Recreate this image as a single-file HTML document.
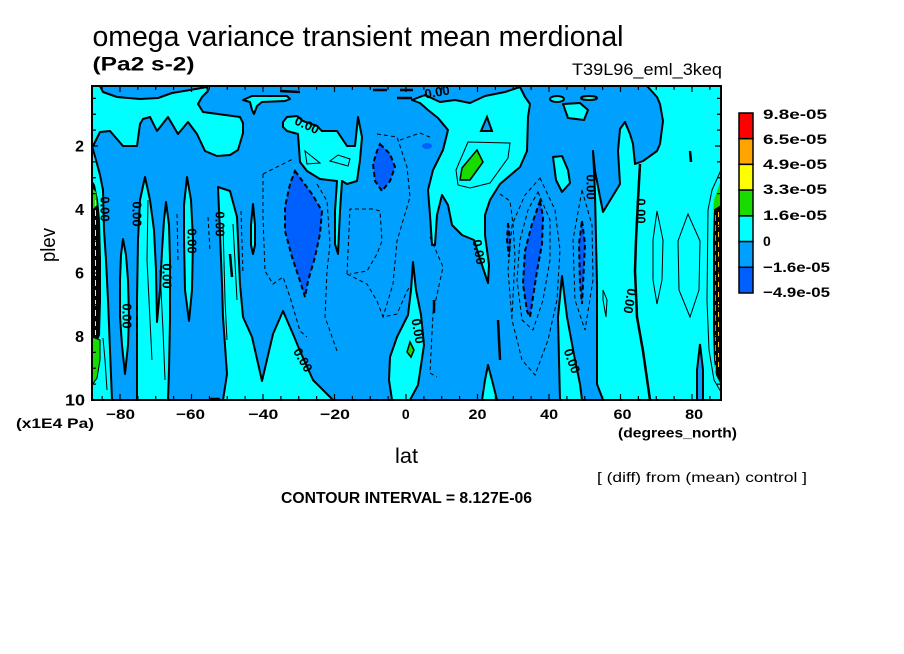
<!DOCTYPE html>
<html><head><meta charset="utf-8"><style>
html,body{margin:0;padding:0;background:#fff;}
svg{display:block;}
text{font-family:"Liberation Sans",sans-serif;fill:#000;}
</style></head><body>
<svg width="904" height="654" viewBox="0 0 904 654" xmlns="http://www.w3.org/2000/svg">
<rect width="904" height="654" fill="#fff"/>
<defs><clipPath id="pc"><rect x="92" y="86" width="629" height="314"/></clipPath></defs>
<g clip-path="url(#pc)">
<rect x="92" y="86" width="629" height="314" fill="#00a0ff"/>
<g fill="#00ffff" stroke="#000" stroke-width="2" stroke-linejoin="round">
<polygon points="92,86 100,86 103,92 117,97 140,99 158,98 172,93 190,90 207,87 208,91 202,97 198,104 203,112 240,117 243,123 243,133 238,150 230,155 217,156 205,151 197,134 188,122 178,134 168,117 157,131 150,117 143,119 140,124 137,146 123,146 110,131 100,132 93,146 92,146"/>
<polygon points="92,146 96,160 100,175 103,190 104,230 106,260 108,300 110,350 112,400 92,400"/>
<polygon points="123,239 126,255 128,280 129,317 128,345 125,374 122,345 120,317 120,280 121,255"/>
<polygon points="145,177 150,200 154,230 156,270 157,322 160,290 162,251 164,220 166,202 169,225 170,260 170,320 169,370 168,400 137,400 137,300 138,240 140,200"/>
<polygon points="187,177 191,200 193,240 192,290 189,321 185,290 184,240 184,205"/>
<polygon points="218,187 230,191 237,217 240,284 243,317 252,337 262,381 273,334 283,311 293,334 300,351 313,380 333,400 223,400 227,374 223,317 222,284 220,234"/>
<polygon points="253,204 255,225 255,245 253,254 251,245 251,225"/>
<polygon points="283,122 287,117 297,116 303,121 317,126 322,131 337,131 347,146 355,146 358,117 362,137 360,160 357,181 347,184 342,181 340,211 338,254 335,244 335,211 337,181 320,179 307,171 300,162 298,134 287,131 283,127"/>
<polygon points="243,100 252,96 287,96 290,99 285,101 262,102 257,106 254,114 252,110 250,102"/>
<polygon points="425,95 440,102 455,100 470,103 485,96 505,92 520,87 525,97 530,104 528,117 527,151 520,167 500,184 490,200 485,215 485,235 489,265 488,283 481,262 474,240 462,235 452,225 448,205 442,195 437,215 435,245 432,245 430,215 428,190 433,170 443,150 448,130 438,118 428,110 420,103 412,100"/>
<polygon points="553,157 562,156 568,170 570,183 562,192 556,180"/>
<ellipse cx="557" cy="99" rx="7" ry="3"/>
<polygon points="563,104 580,103 588,110 584,120 568,118"/>
<ellipse cx="589" cy="98" rx="8" ry="2"/>
<polygon points="593,151 594,171 595,194 597,284 597,384 603,400 721,400 721,86 647,86 657,97 660,104 663,121 660,144 657,151 643,161 635,164 633,144 630,134 625,122 620,129 618,151 620,184 603,212 600,197 595,171"/>
<polygon points="562,276 567,317 575,360 580,384 582,400 560,400 559,360 558,317"/>
<polygon points="488,365 492,380 497,400 482,400 485,380"/>
<polygon points="413,262 416,290 421,315 424,345 420,372 418,385 410,400 392,400 389,380 390,357 397,337 408,315 411,290"/>
</g>
<polygon points="481,131 487,117 492,131" fill="#00a0ff" stroke="#000" stroke-width="2"/>
<g fill="#0060ff" stroke="#000" stroke-width="2" stroke-dasharray="5 3">
<polygon points="295,171 312,194 322,211 320,234 315,257 308,281 305,297 300,281 292,257 285,231 285,207 290,184"/>
<polygon points="380,144 390,154 395,167 390,181 382,191 375,181 373,164 377,151"/>
<polygon points="540,201 543,217 542,244 537,271 533,297 530,317 527,311 523,284 525,251 532,224"/>
<polygon points="582,221 585,244 583,284 582,304 580,284 579,244"/>
<polygon points="508,223 510,240 509,257 507,240"/>
</g>
<ellipse cx="427" cy="146" rx="5" ry="3" fill="#0060ff"/>
<g fill="#18dc00" stroke="#000" stroke-width="1.5">
<polygon points="477,150 483,162 470,180 460,180 462,168"/>
<polygon points="410,342 414,350 411,357 407,352"/>
</g>
<g fill="none" stroke="#000" stroke-width="1" stroke-dasharray="4 3">
<polyline points="263,174 293,159"/>
<polyline points="263,174 263,217 265,271 273,284 283,277 290,297 300,331 307,337"/>
<polyline points="317,184 327,201 330,244 327,271 325,317 337,351"/>
<polyline points="347,274 350,209 373,209 380,211 382,241 377,254 367,271 350,274"/>
<polyline points="347,274 367,284 377,301 383,317 397,314 407,291 412,284"/>
<polyline points="377,134 397,137 407,167 410,197 397,241 393,284 383,317"/>
<polyline points="400,140 420,133 432,138"/>
<polyline points="430,237 443,267 433,313 430,373 437,377"/>
<polyline points="177,214 178,261"/>
<polyline points="208,217 210,251"/>
<polyline points="241,211 243,274"/>
<polygon points="540,178 555,210 560,250 557,300 548,340 535,375 522,360 512,320 508,270 512,225 525,195"/>
<polygon points="538,192 550,220 550,260 543,300 533,330 522,320 517,280 520,240 528,210"/>
<polygon points="582,190 592,225 593,280 585,330 575,300 573,240"/>
<polyline points="500,194 510,201 513,224 515,257 512,317"/>
</g>
<g fill="none" stroke="#000" stroke-width="1">
<polygon points="305,151 320,163 307,164"/>
<polygon points="330,161 338,155 350,159 348,166"/>
<polygon points="468,142 510,143 508,158 490,183 470,188 458,185 456,170"/>
<polygon points="657,211 663,240 662,280 657,304 653,280 653,240"/>
<polygon points="688,214 700,241 699,290 690,317 679,290 678,241"/>
<polygon points="603,290 607,300 606,317 603,300"/>
<polyline points="148,200 147,260 150,320 152,360"/>
<polyline points="160,270 163,330 165,380"/>
<polyline points="223,224 225,300 227,340"/>
<polyline points="233,224 237,300"/>
<polyline points="721,170 712,190 708,210 707,300 709,350 714,380 721,392"/>
<polyline points="103,338 105,360 107,390"/>
</g>
<g fill="none" stroke="#000" stroke-width="2.5">
<polyline points="640,164 638,200 636,240 635,271 637,317 643,351 650,400"/>
<line x1="230" y1="254" x2="232" y2="277"/>
<line x1="434" y1="300" x2="434" y2="313"/>
<line x1="373" y1="90" x2="387" y2="90"/>
<line x1="397" y1="98" x2="412" y2="98"/>
<line x1="280" y1="91" x2="300" y2="92"/>
<line x1="400" y1="90" x2="413" y2="90"/>
<line x1="690" y1="151" x2="691" y2="162"/>
<line x1="498" y1="320" x2="500" y2="360"/>
<line x1="210" y1="399" x2="220" y2="399"/>
</g>
<polygon points="700,344 703,370 703,400 697,400 697,370" fill="#00a0ff" stroke="#000" stroke-width="2"/>
<polygon points="92,180 95,185 98,200 100,220 101,260 101,300 100,335 98,340 92,340" fill="#000"/>
<polygon points="92,337 100,340 100,360 97,378 92,385" fill="#18dc00" stroke="#000" stroke-width="1"/>
<polygon points="92,188 96,192 97,205 92,210" fill="#18dc00"/>
<line x1="95.5" y1="200" x2="95.5" y2="335" stroke="#ffff00" stroke-width="1" stroke-dasharray="6 4"/>
<polygon points="721,184 717,195 714,207 713,240 713,330 714,360 716,375 721,385" fill="#000"/>
<polygon points="721,180 714,200 713,210 721,205" fill="#18dc00"/>
<line x1="718.5" y1="212" x2="718.5" y2="370" stroke="#ffc800" stroke-width="1" stroke-dasharray="5 5"/>
<line x1="715.5" y1="215" x2="715.5" y2="372" stroke="#18dc00" stroke-width="1" stroke-dasharray="6 4"/>
<g font-size="13" font-weight="bold" text-anchor="middle" dominant-baseline="central">
<text transform="translate(105,209) rotate(90)">0.00</text>
<text transform="translate(137,214) rotate(90)">0.00</text>
<text transform="translate(127,316) rotate(90)">0.00</text>
<text transform="translate(167,276) rotate(90)">0.00</text>
<text transform="translate(192,241) rotate(90)">0.00</text>
<text transform="translate(220,224) rotate(90)">0.00</text>
<text transform="translate(307,125) rotate(25)">0.00</text>
<text transform="translate(303,360) rotate(60)">0.00</text>
<text transform="translate(437,92) rotate(-10)">0.00</text>
<text transform="translate(479,252) rotate(80)">0.00</text>
<text transform="translate(418,331) rotate(80)">0.00</text>
<text transform="translate(591,187) rotate(90)">0.00</text>
<text transform="translate(641,211) rotate(90)">0.00</text>
<text transform="translate(630,301) rotate(100)">0.00</text>
<text transform="translate(572,361) rotate(70)">0.00</text>
</g>
</g>
<rect x="92" y="86" width="629" height="314" fill="none" stroke="#000" stroke-width="2"/>
<path stroke="#000" stroke-width="1.2" fill="none" d="
M102.1 400v-4M120 400v-6M137.9 400v-4M155.75 400v-4M173.6 400v-4M191.5 400v-6M209.4 400v-4M227.25 400v-4M245.1 400v-4M263 400v-6M280.9 400v-4M298.75 400v-4M316.6 400v-4M334.5 400v-6M352.4 400v-4M370.25 400v-4M388.1 400v-4M406 400v-6M423.9 400v-4M441.75 400v-4M459.6 400v-4M477.5 400v-6M495.4 400v-4M513.25 400v-4M531.1 400v-4M549 400v-6M566.9 400v-4M584.75 400v-4M602.6 400v-4M620.5 400v-6M638.4 400v-4M656.25 400v-4M674.1 400v-4M692 400v-6M709.9 400v-4
M102.1 86v4M120 86v6M137.9 86v4M155.75 86v4M173.6 86v4M191.5 86v6M209.4 86v4M227.25 86v4M245.1 86v4M263 86v6M280.9 86v4M298.75 86v4M316.6 86v4M334.5 86v6M352.4 86v4M370.25 86v4M388.1 86v4M406 86v6M423.9 86v4M441.75 86v4M459.6 86v4M477.5 86v6M495.4 86v4M513.25 86v4M531.1 86v4M549 86v6M566.9 86v4M584.75 86v4M602.6 86v4M620.5 86v6M638.4 86v4M656.25 86v4M674.1 86v4M692 86v6M709.9 86v4
M92 98.4h4M92 114.25h4M92 130.1h4M92 146h6M92 161.9h4M92 177.75h4M92 193.6h4M92 209.5h6M92 225.4h4M92 241.25h4M92 257.1h4M92 273h6M92 288.9h4M92 304.75h4M92 320.6h4M92 336.5h6M92 352.4h4M92 368.25h4M92 384.1h4
M721 98.4h-4M721 114.25h-4M721 130.1h-4M721 146h-6M721 161.9h-4M721 177.75h-4M721 193.6h-4M721 209.5h-6M721 225.4h-4M721 241.25h-4M721 257.1h-4M721 273h-6M721 288.9h-4M721 304.75h-4M721 320.6h-4M721 336.5h-6M721 352.4h-4M721 368.25h-4M721 384.1h-4"/>
<g font-weight="bold" font-size="16" text-anchor="end">
<text x="84" y="151.5">2</text>
<text x="84" y="215">4</text>
<text x="84" y="278.5">6</text>
<text x="84" y="342">8</text>
<text x="85" y="405.5" textLength="20" lengthAdjust="spacingAndGlyphs">10</text>
</g>
<g font-weight="bold" font-size="14" text-anchor="middle">
<text x="120.5" y="419" textLength="29" lengthAdjust="spacingAndGlyphs">−80</text>
<text x="190.5" y="419" textLength="29" lengthAdjust="spacingAndGlyphs">−60</text>
<text x="263.3" y="419" textLength="30" lengthAdjust="spacingAndGlyphs">−40</text>
<text x="335" y="419" textLength="30" lengthAdjust="spacingAndGlyphs">−20</text>
<text x="405.8" y="419">0</text>
<text x="477.5" y="419" textLength="18" lengthAdjust="spacingAndGlyphs">20</text>
<text x="549.2" y="419" textLength="18" lengthAdjust="spacingAndGlyphs">40</text>
<text x="622.5" y="419" textLength="18" lengthAdjust="spacingAndGlyphs">60</text>
<text x="694.2" y="419" textLength="18" lengthAdjust="spacingAndGlyphs">80</text>
</g>
<text x="16" y="428" font-size="14" font-weight="bold" textLength="78" lengthAdjust="spacingAndGlyphs">(x1E4 Pa)</text>
<text x="618" y="437.5" font-size="14" font-weight="bold" textLength="119" lengthAdjust="spacingAndGlyphs">(degrees_north)</text>
<text x="395" y="463" font-size="21" textLength="23" lengthAdjust="spacingAndGlyphs">lat</text>
<text transform="translate(55,245) rotate(-90)" font-size="20" text-anchor="middle" textLength="34" lengthAdjust="spacingAndGlyphs">plev</text>
<text x="597" y="482" font-size="14" textLength="210" lengthAdjust="spacingAndGlyphs">[ (diff) from (mean) control ]</text>
<text x="281" y="503" font-size="16" font-weight="bold" textLength="251" lengthAdjust="spacingAndGlyphs">CONTOUR INTERVAL = 8.127E-06</text>
<text x="92.5" y="46" font-size="29" textLength="531" lengthAdjust="spacingAndGlyphs">omega variance transient mean merdional</text>
<text x="92.5" y="70.5" font-size="19" font-weight="bold" textLength="102" lengthAdjust="spacingAndGlyphs">(Pa2 s-2)</text>
<text x="572" y="75" font-size="17" textLength="150" lengthAdjust="spacingAndGlyphs">T39L96_eml_3keq</text>
<g stroke="#000" stroke-width="1.5">
<rect x="739" y="113" width="14" height="25.7" fill="#ff0000"/>
<rect x="739" y="138.7" width="14" height="25.7" fill="#ffa500"/>
<rect x="739" y="164.4" width="14" height="25.7" fill="#ffff00"/>
<rect x="739" y="190.1" width="14" height="25.7" fill="#18dc00"/>
<rect x="739" y="215.9" width="14" height="25.7" fill="#00ffff"/>
<rect x="739" y="241.6" width="14" height="25.7" fill="#00a0ff"/>
<rect x="739" y="267.3" width="14" height="25.7" fill="#0060ff"/>
</g>
<g font-size="14" font-weight="bold">
<text x="763" y="119" textLength="64" lengthAdjust="spacingAndGlyphs">9.8e-05</text>
<text x="763" y="144" textLength="64" lengthAdjust="spacingAndGlyphs">6.5e-05</text>
<text x="763" y="169" textLength="64" lengthAdjust="spacingAndGlyphs">4.9e-05</text>
<text x="763" y="194" textLength="64" lengthAdjust="spacingAndGlyphs">3.3e-05</text>
<text x="763" y="220" textLength="64" lengthAdjust="spacingAndGlyphs">1.6e-05</text>
<text x="763" y="246">0</text>
<text x="763" y="272" textLength="67" lengthAdjust="spacingAndGlyphs">−1.6e-05</text>
<text x="763" y="297" textLength="67" lengthAdjust="spacingAndGlyphs">−4.9e-05</text>
</g>
</svg>
</body></html>
